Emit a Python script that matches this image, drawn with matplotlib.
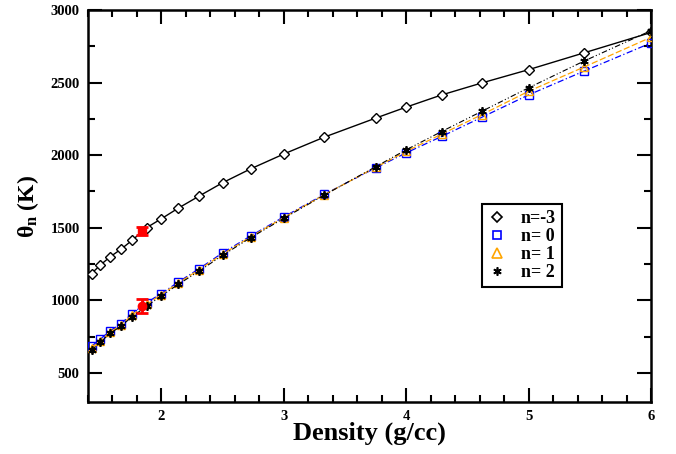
import matplotlib
matplotlib.use("Agg")
import matplotlib.pyplot as plt
from matplotlib.ticker import MultipleLocator
from matplotlib.lines import Line2D

plt.rcParams['font.family'] = ['Liberation Serif', 'DejaVu Serif']
plt.rcParams['font.weight'] = 'bold'
plt.rcParams['mathtext.fontset'] = 'custom'
plt.rcParams['mathtext.rm'] = 'Liberation Serif:bold'
plt.rcParams['mathtext.it'] = 'Liberation Serif:bold'
plt.rcParams['mathtext.bf'] = 'Liberation Serif:bold'

density = [1.43, 1.50, 1.58, 1.67, 1.76, 1.88, 2.00, 2.14, 2.31, 2.50,
           2.73, 3.00, 3.33, 3.75, 4.00, 4.29, 4.62, 5.00, 5.45, 6.00]
theta_nm3 = [1185, 1242, 1299, 1352, 1413, 1501, 1562, 1636, 1719, 1810,
             1906, 2008, 2124, 2255, 2331, 2415, 2498, 2589, 2704, 2845]
theta_n0 = [684, 732, 790, 838, 909, 985, 1047, 1127, 1219, 1327,
            1444, 1575, 1730, 1912, 2016, 2129, 2262, 2415, 2578, 2773]
theta_n1 = [670, 720, 780, 830, 898, 972, 1040, 1120, 1212, 1318,
            1438, 1570, 1727, 1916, 2026, 2145, 2280, 2440, 2606, 2812]
theta_n2 = [657, 710, 772, 822, 887, 960, 1031, 1111, 1203, 1310,
            1432, 1565, 1725, 1920, 2037, 2163, 2303, 2464, 2647, 2858]

exp_density = [1.84, 1.84]
exp_theta = [1478, 960]
exp_err = [28, 48]
exp_markers = ['s', 'o']

labels = ['n=-3', 'n= 0', 'n= 1', 'n= 2']

fig = plt.figure(figsize=(6.76, 4.54), dpi=100)
ax = fig.add_axes([0.130, 0.1145, 0.833, 0.8635])

ax.plot(density, theta_nm3, color='black', linestyle='-', linewidth=1.0,
        marker='D', markersize=5, markerfacecolor='white', markeredgecolor='black',
        markeredgewidth=1.0, zorder=3)
ax.plot(density, theta_n0, color='blue', linestyle=(0, (5, 2, 1, 2)), linewidth=0.9,
        marker='s', markersize=5.5, markerfacecolor='none', markeredgecolor='blue',
        markeredgewidth=1.0, zorder=3)
ax.plot(density, theta_n1, color='orange', linestyle=(0, (5, 2)), linewidth=0.9,
        marker='^', markersize=6, markerfacecolor='none', markeredgecolor='orange',
        markeredgewidth=1.0, zorder=3)
ax.plot(density, theta_n2, color='black', linestyle=(0, (5, 2, 1, 2, 1, 2)), linewidth=0.8,
        marker=(6, 2, 0), markersize=6, markeredgecolor='black',
        markeredgewidth=1.3, zorder=4)

for d, t, e, m in zip(exp_density, exp_theta, exp_err, exp_markers):
    ax.errorbar([d], [t], yerr=[e], fmt=m, color='red', markersize=6,
                elinewidth=2, capsize=4, capthick=2, zorder=5)

ax.set_xlim(1.4, 6.0)
ax.set_ylim(300, 3000)
ax.xaxis.set_major_locator(MultipleLocator(1))
ax.xaxis.set_minor_locator(MultipleLocator(0.2))
ax.yaxis.set_major_locator(MultipleLocator(500))
ax.yaxis.set_minor_locator(MultipleLocator(250))
ax.set_xticks([2, 3, 4, 5, 6])
ax.set_yticks([500, 1000, 1500, 2000, 2500, 3000])
ax.tick_params(which='both', direction='in', top=True, right=True, width=1.5)
ax.tick_params(which='major', length=10, labelsize=10.5, pad=6)
ax.tick_params(which='minor', length=5)
for lab in ax.get_xticklabels() + ax.get_yticklabels():
    lab.set_fontweight('bold')
for s in ax.spines.values():
    s.set_linewidth(1.8)

ax.set_xlabel('Density (g/cc)', fontsize=19, fontweight='bold', labelpad=-1)
ax.set_ylabel(r'$\theta_n$ (K)', fontsize=17, fontweight='bold', labelpad=7)

handles = [
    Line2D([], [], linestyle='none', marker='D', markersize=5, markerfacecolor='white',
           markeredgecolor='black', markeredgewidth=1.2),
    Line2D([], [], linestyle='none', marker='s', markersize=6, markerfacecolor='none',
           markeredgecolor='blue', markeredgewidth=1.2),
    Line2D([], [], linestyle='none', marker='^', markersize=6.5, markerfacecolor='none',
           markeredgecolor='orange', markeredgewidth=1.2),
    Line2D([], [], linestyle='none', marker=(6, 2, 0), markersize=6,
           markeredgecolor='black', markeredgewidth=1.2),
]
leg = ax.legend(handles, labels, loc='lower left', bbox_to_anchor=(0.70, 0.293),
                frameon=True, fancybox=False, framealpha=1, edgecolor='black',
                prop={'family': 'Liberation Serif', 'weight': 'bold', 'size': 13},
                handlelength=1.0, handletextpad=0.8, borderpad=0.35,
                labelspacing=0.05, borderaxespad=0)
leg.get_frame().set_linewidth(1.5)

fig.savefig('out.png', dpi=100)
